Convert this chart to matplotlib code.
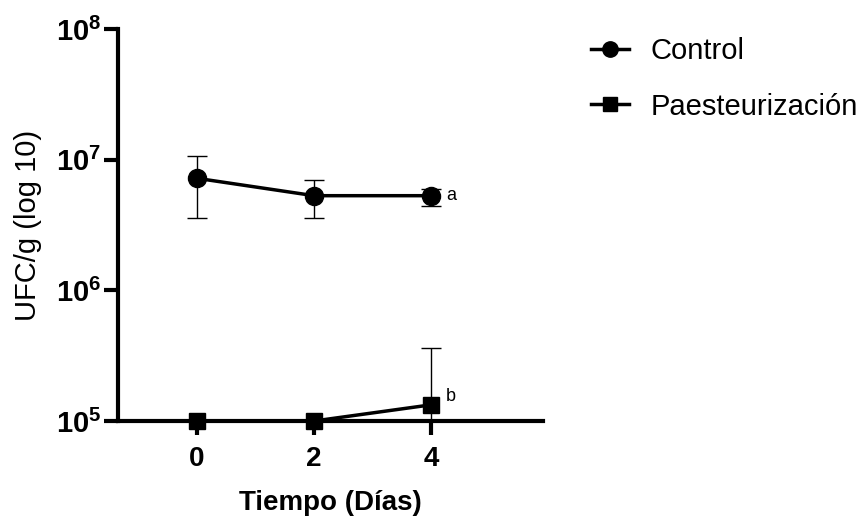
import numpy as np
import matplotlib
matplotlib.use("Agg")
import matplotlib.pyplot as plt
from matplotlib.ticker import FixedLocator, NullLocator

plt.rcParams['font.family'] = ['Liberation Sans', 'DejaVu Sans']
plt.rcParams['mathtext.fontset'] = 'custom'
plt.rcParams['mathtext.rm'] = 'Liberation Sans'
plt.rcParams['mathtext.bf'] = 'Liberation Sans:bold'

# data
days = [0, 2, 4]
control = [7.2e6, 5.3e6, 5.3e6]
control_hi = [1.07e7, 7.0e6, 6.0e6]
control_lo = [3.6e6, 3.6e6, 4.4e6]
paste = [1.0e5, 1.0e5, 1.33e5]
paste_hi = [1.0e5, 1.0e5, 3.6e5]
paste_lo = [1.0e5, 1.0e5, 5.0e4]
yticks = [1e5, 1e6, 1e7, 1e8]
ytick_labels = [r'$\mathbf{10^5}$', r'$\mathbf{10^6}$', r'$\mathbf{10^7}$', r'$\mathbf{10^8}$']
letters = ['a', 'b']

control = np.array(control)
paste = np.array(paste)
c_err = [control - np.array(control_lo), np.array(control_hi) - control]
p_err = [paste - np.array(paste_lo), np.array(paste_hi) - paste]

fig = plt.figure(figsize=(8.63, 5.18), dpi=100)
ax = fig.add_axes([118 / 863, 1 - 421 / 518, 425 / 863, 392 / 518])

ax.errorbar(days, control, yerr=c_err, fmt='none', ecolor='black', elinewidth=1,
            capsize=7, capthick=1, zorder=2)
ax.plot(days, control, color='black', lw=2.5, marker='o', ms=13, label='Control', zorder=3)
ax.errorbar(days, paste, yerr=p_err, fmt='none', ecolor='black', elinewidth=1,
            capsize=7, capthick=1, zorder=2)
ax.plot(days, paste, color='black', lw=2.5, marker='s', ms=12, label='Paesteurización',
        zorder=3, clip_on=False)

ax.set_yscale('log')
ax.set_ylim(1e5, 1e8)
ax.set_xlim(-1.35, 5.91)
ax.yaxis.set_major_locator(FixedLocator(yticks))
ax.yaxis.set_minor_locator(NullLocator())
ax.set_yticklabels(ytick_labels)
ax.set_xticks(days)
ax.set_xticklabels([str(d) for d in days], fontweight='bold')

for s in ['top', 'right']:
    ax.spines[s].set_visible(False)
for s in ['left', 'bottom']:
    ax.spines[s].set_linewidth(3)
ax.tick_params(axis='both', width=3, length=10, labelsize=20)
ax.tick_params(axis='y', pad=2, labelsize=21)
ax.tick_params(axis='x', pad=8)

ax.text(days[2] + 0.25, control[2], letters[0], fontsize=13, va='center', ha='left')
ax.text(days[2] + 0.25, paste[2] * 1.15, letters[1], fontsize=13, va='center', ha='left')

ax.set_ylabel('UFC/g (log 10)', fontsize=21, labelpad=10)
ax.set_xlabel('Tiempo (Días)', fontsize=20, fontweight='bold', labelpad=13)

fig.legend(loc='upper left', bbox_to_anchor=(591 / 863, 1 - 37 / 518), frameon=False,
           fontsize=21, handlelength=1.3, markerscale=0.85, labelspacing=0.95,
           handletextpad=0.75, borderpad=0, borderaxespad=0)

fig.savefig('out.png', dpi=100)
